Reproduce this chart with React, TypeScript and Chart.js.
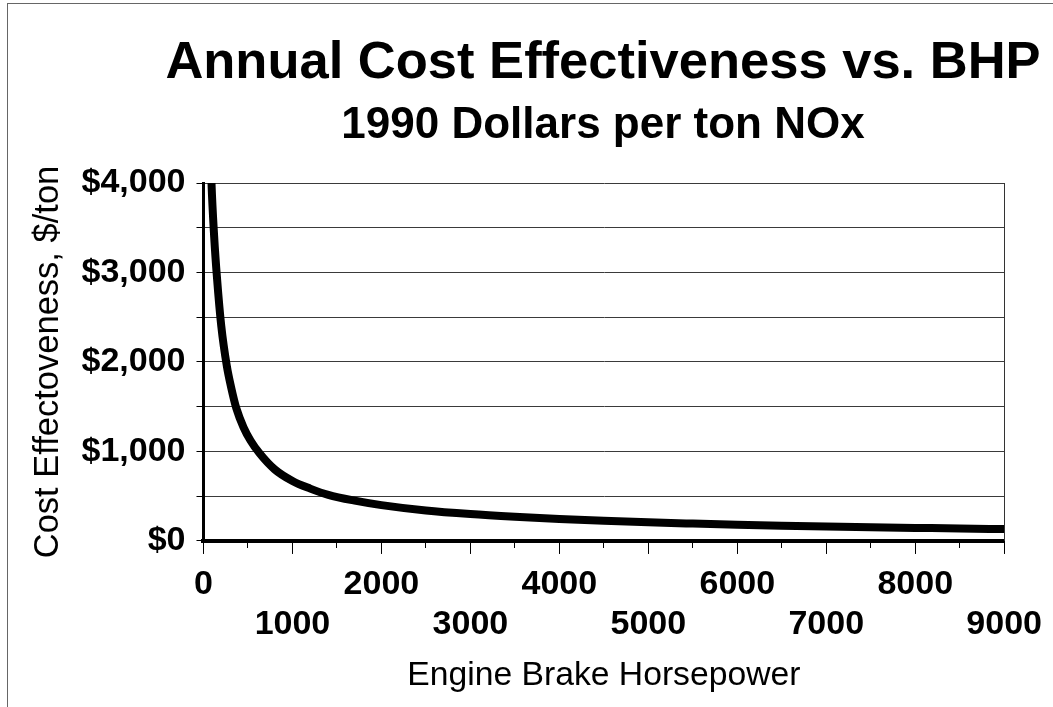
import React, { useEffect, useRef } from "react";
import { Chart, registerables } from "chart.js";

Chart.register(...registerables);

const TITLE = "Annual Cost Effectiveness vs. BHP";
const SUBTITLE = "1990 Dollars per ton NOx";
const X_TITLE = "Engine Brake Horsepower";
const Y_TITLE = "Cost Effectoveness, $/ton";

// Engine brake horsepower (x) and annual cost effectiveness in $/ton (y)
const bhp = [70, 90, 120, 151, 200, 263, 310, 370, 450, 530, 630, 800, 1000, 1200, 1403, 1700, 2000, 2500, 3000, 3500, 4000, 4500, 5000, 5500, 6000, 6500, 7000, 7500, 8000, 8500, 9000];
const cost = [4700, 4000, 3400, 2950, 2400, 1950, 1720, 1480, 1270, 1120, 980, 800, 670, 585, 515, 450, 400, 340, 300, 270, 245, 225, 208, 194, 181, 170, 161, 153, 146, 139, 133];

const X_MIN = 0;
const X_MAX = 9000;
const Y_MIN = 0;
const Y_MAX = 4000;

const FONT = "'Liberation Sans', Arial, Helvetica, sans-serif";

export default function App() {
  const canvasRef = useRef<HTMLCanvasElement | null>(null);

  useEffect(() => {
    if (!canvasRef.current) return;
    const points = bhp.map((x, i) => ({ x, y: cost[i] }));
    const chart = new Chart(canvasRef.current, {
      type: "line",
      data: {
        datasets: [
          {
            data: points,
            borderColor: "#000",
            borderWidth: 8,
            pointRadius: 0,
            cubicInterpolationMode: "monotone",
            fill: false,
            clip: 0,
          } as any,
        ],
      },
      options: {
        animation: false,
        responsive: false,
        maintainAspectRatio: false,
        layout: { padding: { left: 0, right: 46, top: 183, bottom: 10.6 } },
        plugins: {
          legend: { display: false },
          tooltip: { enabled: false },
          title: { display: false },
          subtitle: { display: false },
        },
        scales: {
          x: {
            type: "linear",
            min: X_MIN,
            max: X_MAX,
            position: "bottom",
            border: { display: true, color: "#000", width: 4 },
            grid: {
              drawOnChartArea: false,
              drawTicks: true,
              tickLength: 13,
              tickColor: "#000",
              tickWidth: 1,
              tickBorderDash: (ctx: any) =>
                ctx.tick && ctx.tick.value % 1000 === 0 ? [] : [5, 60],
            } as any,
            ticks: {
              stepSize: 500,
              autoSkip: false,
              maxRotation: 0,
              minRotation: 0,
              padding: 11,
              color: "#000",
              font: { family: FONT, size: 34, weight: "bold", lineHeight: 40 / 34 },
              callback: (v: any) => {
                const n = Number(v);
                if (n % 2000 === 0) return [String(n)];
                if (n % 1000 === 0) return ["", String(n)];
                return "";
              },
            },
            title: {
              display: true,
              text: X_TITLE,
              color: "#000",
              font: { family: FONT, size: 33.7, weight: "normal", lineHeight: 1.2 },
              padding: { top: 0, bottom: 0 },
            },
          },
          y: {
            type: "linear",
            min: Y_MIN,
            max: Y_MAX,
            position: "left",
            border: { display: true, color: "#000", width: 3 },
            grid: {
              drawOnChartArea: true,
              color: "#3a3a3a",
              lineWidth: 1,
              drawTicks: true,
              tickLength: 7,
              tickColor: "#000",
            },
            ticks: {
              stepSize: 500,
              autoSkip: false,
              padding: 11,
              color: "#000",
              font: { family: FONT, size: 34, weight: "bold" },
              callback: (v: any) => {
                const n = Number(v);
                if (n % 1000 !== 0) return "";
                return "$" + n.toLocaleString("en-US");
              },
            },
            title: {
              display: true,
              text: Y_TITLE,
              color: "#000",
              font: { family: FONT, size: 34.5, weight: "normal", lineHeight: 1.2 },
              padding: { top: 27.3, bottom: 1.8 },
            },
          },
          y2: {
            type: "linear",
            min: Y_MIN,
            max: Y_MAX,
            position: "right",
            border: { display: true, color: "#333", width: 1 },
            grid: { drawOnChartArea: false, drawTicks: false },
            ticks: { display: false },
          },
        },
      },
    });
    return () => chart.destroy();
  }, []);

  return (
    <div
      style={{
        position: "fixed",
        left: 0,
        top: 0,
        width: 1053,
        height: 707,
        background: "#fff",
        overflow: "hidden",
        fontFamily: FONT,
        color: "#000",
      }}
    >
      <div
        style={{
          position: "absolute",
          left: 7,
          top: 3,
          width: 1100,
          height: 760,
          borderLeft: "1px solid #666",
          borderTop: "1px solid #666",
          pointerEvents: "none",
        }}
      />
      <canvas
        ref={canvasRef}
        width={1053}
        height={707}
        style={{ position: "absolute", left: 0, top: 0, width: 1053, height: 707 }}
      />
      <div
        style={{
          position: "absolute",
          left: 0,
          width: 1206,
          top: 33.8,
          textAlign: "center",
          fontSize: 52.5,
          lineHeight: "52.5px",
          fontWeight: "bold",
          whiteSpace: "nowrap",
        }}
      >
        {TITLE}
      </div>
      <div
        style={{
          position: "absolute",
          left: 0,
          width: 1206,
          top: 100.5,
          textAlign: "center",
          fontSize: 44,
          lineHeight: "44px",
          fontWeight: "bold",
          whiteSpace: "nowrap",
        }}
      >
        {SUBTITLE}
      </div>
    </div>
  );
}
